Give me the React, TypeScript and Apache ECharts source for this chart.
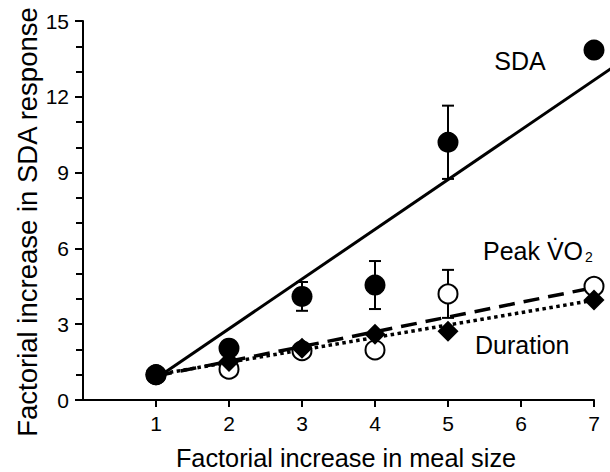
import React, { useEffect, useRef } from "react";
import * as echarts from "echarts";

const mealSize = [1, 2, 3, 4, 5, 7];
const sdaValues = [1.0, 2.05, 4.1, 4.55, 10.2, 13.85];
const sdaErr = [0, 0, 0.57, 0.95, 1.45, 0];
const peakValues = [1.0, 1.22, 1.95, 1.98, 4.2, 4.5];
const peakErr = [0, 0, 0, 0, 0.95, 0];
const durationValues = [1.0, 1.52, 2.05, 2.6, 2.72, 3.96];
const sdaFit = [1, 0.85, 7.25, 13.15];
const peakFit = [[1, 0.95], [7, 4.45]];
const durationFit = [[1, 1.0], [7, 3.95]];
const xTicks = [1, 2, 3, 4, 5, 6, 7];
const FONT = "Liberation Sans";

function errData(vals: number[], errs: number[]) {
  return mealSize
    .map((x, i) => [x, vals[i] - errs[i], vals[i] + errs[i]])
    .filter((_, i) => errs[i] > 0);
}

function errRender(params: any, api: any) {
  const x = api.value(0);
  const lo = api.coord([x, api.value(1)]);
  const hi = api.coord([x, api.value(2)]);
  const cw = 6;
  const st = { stroke: "#000", lineWidth: 2 };
  return {
    type: "group",
    children: [
      { type: "line", shape: { x1: lo[0], y1: lo[1], x2: hi[0], y2: hi[1] }, style: st },
      { type: "line", shape: { x1: hi[0] - cw, y1: hi[1], x2: hi[0] + cw, y2: hi[1] }, style: st },
      { type: "line", shape: { x1: lo[0] - cw, y1: lo[1], x2: lo[0] + cw, y2: lo[1] }, style: st },
    ],
  };
}

function fitRender(params: any, api: any) {
  const a = api.coord([api.value(0), api.value(1)]);
  const b = api.coord([api.value(2), api.value(3)]);
  return {
    type: "line",
    shape: { x1: a[0], y1: a[1], x2: b[0], y2: b[1] },
    style: { stroke: "#000", lineWidth: 3 },
  };
}

export default function App() {
  const ref = useRef<HTMLDivElement>(null);
  useEffect(() => {
    if (!ref.current) return;
    const chart = echarts.init(ref.current, null, { renderer: "svg" });
    chart.setOption({
      animation: false,
      textStyle: { fontFamily: FONT },
      grid: { left: 83, right: 16, top: 21, bottom: 72, containLabel: false },
      xAxis: {
        type: "value",
        min: 0,
        max: 7,
        interval: 1,
        splitLine: { show: false },
        axisLine: { onZero: false, lineStyle: { color: "#000", width: 2 } },
        axisTick: { show: true, length: 7, customValues: xTicks, lineStyle: { color: "#000", width: 2 } },
        axisLabel: { customValues: xTicks, color: "#000", fontSize: 21, margin: 13, fontFamily: FONT },
      },
      yAxis: {
        type: "value",
        min: 0,
        max: 15,
        interval: 3,
        splitLine: { show: false },
        axisLine: { show: true, lineStyle: { color: "#000", width: 2 } },
        axisTick: { show: true, length: 8, lineStyle: { color: "#000", width: 2 } },
        minorTick: { show: true, splitNumber: 3, length: 7, lineStyle: { color: "#000", width: 2 } },
        axisLabel: { color: "#000", fontSize: 21, margin: 14, fontFamily: FONT },
      },
      series: [
        {
          type: "custom",
          renderItem: fitRender,
          data: [sdaFit],
          clip: false,
          z: 1,
        },
        {
          type: "line",
          data: peakFit,
          symbol: "none",
          z: 1,
          lineStyle: { color: "#000", width: 3.5, type: [16, 9] },
        },
        {
          type: "line",
          data: durationFit,
          symbol: "none",
          z: 1,
          lineStyle: { color: "#000", width: 3.5, type: [3.5, 3.5] },
        },
        {
          type: "custom",
          renderItem: errRender,
          data: errData(sdaValues, sdaErr),
          z: 2,
        },
        {
          type: "custom",
          renderItem: errRender,
          data: errData(peakValues, peakErr),
          z: 2,
        },
        {
          type: "scatter",
          data: mealSize.map((x, i) => [x, peakValues[i]]),
          symbol: "circle",
          symbolSize: 19,
          z: 3,
          itemStyle: { color: "#fff", borderColor: "#000", borderWidth: 2, opacity: 1 },
        },
        {
          type: "scatter",
          data: mealSize.map((x, i) => [x, durationValues[i]]),
          symbol: "diamond",
          symbolSize: 21,
          z: 4,
          itemStyle: { color: "#000", opacity: 1 },
        },
        {
          type: "scatter",
          data: mealSize.map((x, i) => [x, sdaValues[i]]),
          symbol: "circle",
          symbolSize: 21,
          z: 5,
          itemStyle: { color: "#000", opacity: 1 },
        },
      ],
      graphic: [
        {
          type: "text",
          x: 27,
          y: 222,
          rotation: Math.PI / 2,
          style: {
            text: "Factorial increase in SDA response",
            fontSize: 27.5,
            fontFamily: FONT,
            fill: "#000",
            textAlign: "center",
            textVerticalAlign: "middle",
          },
        },
        {
          type: "text",
          x: 346,
          y: 458,
          style: {
            text: "Factorial increase in meal size",
            fontSize: 25.3,
            fontFamily: FONT,
            fill: "#000",
            textAlign: "center",
            textVerticalAlign: "middle",
          },
        },
        {
          type: "text",
          x: 520,
          y: 61,
          style: { text: "SDA", fontSize: 25, fontFamily: FONT, fill: "#000", textAlign: "center", textVerticalAlign: "middle" },
        },
        {
          type: "text",
          x: 483,
          y: 251,
          style: {
            text: "Peak V\u0307O{sub|2}",
            fontSize: 25,
            lineHeight: 25,
            fontFamily: FONT,
            fill: "#000",
            textAlign: "left",
            textVerticalAlign: "middle",
            rich: {
              sub: { fontSize: 14, lineHeight: 2, verticalAlign: "bottom", padding: [0, 0, 0, 2], fontFamily: FONT, fill: "#000" },
            },
          },
        },
        {
          type: "text",
          x: 475,
          y: 345,
          style: { text: "Duration", fontSize: 25, fontFamily: FONT, fill: "#000", textAlign: "left", textVerticalAlign: "middle" },
        },
      ],
    });
    return () => chart.dispose();
  }, []);
  return <div ref={ref} style={{ width: 610, height: 472, position: "absolute", left: 0, top: 0 }} />;
}
